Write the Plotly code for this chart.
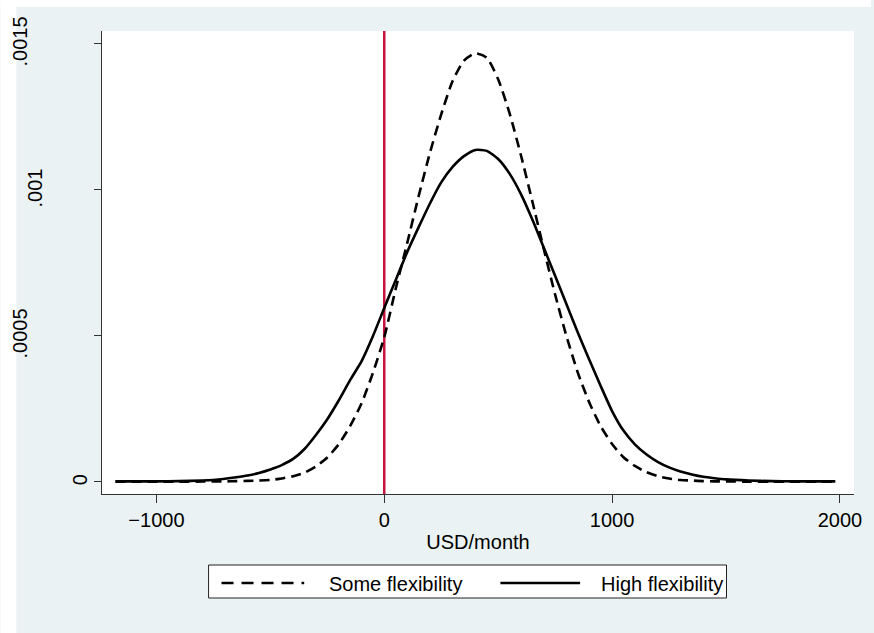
import plotly.graph_objects as go

# ---- data ----
usd = [-1180, -1100, -1000, -900, -800, -750, -700, -650, -600, -550,
       -500, -450, -400, -350, -300, -250, -200, -150, -100, -50,
       0, 50, 100, 150, 200, 250, 300, 350, 400, 450,
       500, 550, 600, 650, 700, 750, 800, 850, 900, 950,
       1000, 1050, 1100, 1150, 1200, 1250, 1300, 1350, 1400, 1450,
       1500, 1600, 1700, 1800, 1900, 1980]

some_flex = [0, 0, 0, 0, 0.0000005, 0.000001, 0.000001, 0.000002, 0.000003, 0.000004,
             0.000006, 0.000011, 0.000019, 0.000031, 0.000052, 0.000083, 0.000128, 0.000190, 0.000268, 0.000372,
             0.000495, 0.000660, 0.000815, 0.000975, 0.001125, 0.001258, 0.001372, 0.001442, 0.001467, 0.001452,
             0.001378, 0.001262, 0.001118, 0.000960, 0.000798, 0.000641, 0.000498, 0.000373, 0.000271, 0.000190,
             0.000129, 0.000084, 0.000054, 0.000033, 0.000019, 0.000011, 0.000006, 0.000004, 0.000002, 0.000001,
             0.000001, 0, 0, 0, 0, 0]

high_flex = [0.000001, 0.000001, 0.000001, 0.000002, 0.000004, 0.000006, 0.000010, 0.000015, 0.000021, 0.000030,
             0.000042, 0.000057, 0.000078, 0.000112, 0.000160, 0.000214, 0.000278, 0.000348, 0.000412, 0.000498,
             0.000595, 0.000690, 0.000785, 0.000870, 0.000952, 0.001025, 0.001078, 0.001115, 0.001136, 0.001133,
             0.001105, 0.001055, 0.000985, 0.000898, 0.000802, 0.000705, 0.000608, 0.000510, 0.000418, 0.000328,
             0.000242, 0.000175, 0.000128, 0.000094, 0.000068, 0.000049, 0.000035, 0.000025, 0.000017, 0.000012,
             0.000008, 0.000004, 0.000002, 0.000001, 0.000001, 0.000001]

x_ticks = [-1000, 0, 1000, 2000]
y_ticks = [0, 0.0005, 0.001, 0.0015]
y_tick_labels = ["0", ".0005", ".001", ".0015"]
series_names = ["Some flexibility", "High flexibility"]
x_title = "USD/month"
ref_line_x = 0

# ---- figure (page body margin removed via post_script, so page == figure coords) ----
W, H = 874, 633
ML, MR, MT, MB = 102, 17, 31, 139
PW, PH = W - ML - MR, H - MT - MB

def px(page_x):
    return (page_x - ML) / PW

def py(page_y):
    return (H - MB - page_y) / PH

FONT = "Arial, Liberation Sans, sans-serif"

fig = go.Figure()
fig.add_trace(go.Scatter(x=usd, y=some_flex, mode="lines", name=series_names[0],
                         line=dict(color="black", width=2.6, dash="10px,6px", shape="spline", smoothing=0.6)))
fig.add_trace(go.Scatter(x=usd, y=high_flex, mode="lines", name=series_names[1],
                         line=dict(color="black", width=2.6, shape="spline", smoothing=0.6)))

shapes = [
    # white strips at the left and top of the graph region
    dict(type="rect", xref="paper", yref="paper", x0=px(0), x1=px(16), y0=py(H), y1=py(0),
         fillcolor="white", line=dict(width=0), layer="below"),
    dict(type="rect", xref="paper", yref="paper", x0=px(0), x1=px(W), y0=py(7), y1=py(0),
         fillcolor="white", line=dict(width=0), layer="below"),
    # reference line
    dict(type="line", xref="x", yref="paper", x0=ref_line_x, x1=ref_line_x, y0=0, y1=1,
         line=dict(color="#C8143C", width=2.5), layer="below"),
    # legend box and keys
    dict(type="rect", xref="paper", yref="paper", x0=px(209), x1=px(729), y0=py(598), y1=py(565),
         fillcolor="white", line=dict(color="#222222", width=1)),
    dict(type="line", xref="paper", yref="paper", x0=px(222), x1=px(305), y0=py(583), y1=py(583),
         line=dict(color="black", width=2.6, dash="12px,8px")),
    dict(type="line", xref="paper", yref="paper", x0=px(502), x1=px(582), y0=py(583), y1=py(583),
         line=dict(color="black", width=2.6)),
]

annotations = [
    dict(xref="paper", yref="paper", x=px(328), y=py(584), text=series_names[0], showarrow=False,
         xanchor="left", yanchor="middle", font=dict(family=FONT, size=20, color="black")),
    dict(xref="paper", yref="paper", x=px(727), y=py(584), text=series_names[1], showarrow=False,
         xanchor="right", yanchor="middle", font=dict(family=FONT, size=20, color="black")),
]
# vertical y tick labels, placed Stata-style (longer labels sit further left)
for val, lab in zip(y_ticks, y_tick_labels):
    annotations.append(dict(xref="paper", yref="y", x=px(79.5 - 15 * (len(lab) - 1)), y=val,
                            text=lab, showarrow=False, textangle=-90, yshift=2,
                            xanchor="center", yanchor="middle",
                            font=dict(family=FONT, size=20, color="black")))

fig.update_layout(
    width=W, height=H, autosize=False,
    margin=dict(l=ML, r=MR, t=MT, b=MB, pad=0),
    paper_bgcolor="#EAF2F3", plot_bgcolor="white",
    showlegend=False,
    font=dict(family=FONT, size=20, color="black"),
    shapes=shapes, annotations=annotations,
    xaxis=dict(range=[-1239, 2062], tickvals=x_ticks, showgrid=False, zeroline=False,
               showline=True, linecolor="#333333", linewidth=1, ticks="outside", ticklen=8,
               tickcolor="#333333", tickfont=dict(size=20),
               title=dict(text=x_title, font=dict(size=20), standoff=4)),
    yaxis=dict(range=[-0.0000421, 0.0015435], tickvals=y_ticks, showticklabels=False,
               showgrid=False, zeroline=False,
               showline=True, linecolor="#333333", linewidth=1, ticks="outside", ticklen=7,
               tickcolor="#333333"),
)

fig.write_html("out.html", config={"displayModeBar": False},
               post_script="document.body.style.margin='0';document.body.style.overflow='hidden';")
